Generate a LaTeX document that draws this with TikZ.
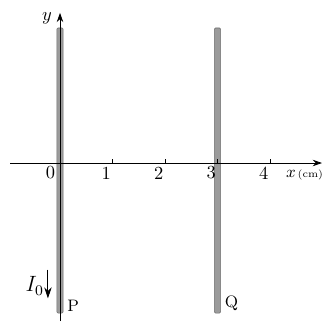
\documentclass[tikz,border=0pt]{standalone}
\usepackage{tikz}
\usetikzlibrary{positioning, arrows.meta}
\definecolor{RodGray}{RGB}{155,155,155}
\definecolor{RodEdge}{RGB}{110,110,110}

\begin{document}
\begin{tikzpicture}[
          rod/.style={rectangle, rounded corners=0.6pt, minimum width=0.12cm,
                      minimum height=5.43cm, inner sep=0pt,
                      fill=RodGray, draw=RodEdge, line width=0.3pt},
          axis/.style={-{Stealth[length=5pt, width=3.5pt]}, line width=0.4pt},
          tick/.style={font=\normalsize, inner sep=1pt},
          lbl/.style={font=\small, inner sep=1pt}
        ]
        \useasboundingbox (-1.143, -3.01) rectangle (5.048, 3.105);

        % Rods
        \node[rod] (rodP) at (0, -0.143) {};
        \node[rod] (rodQ) at (3, -0.143) {};

        % Axes
        \coordinate (xs) at (-0.95, 0);
        \coordinate (xe) at (4.99, 0);
        \coordinate (ys) at (0, -3.01);
        \coordinate (ye) at (0, 2.86);
        \draw[axis] (xs) -- (xe);
        \draw[axis] (ys) -- (ye);
        \node[lbl, font=\normalsize] (ylab) at (-0.25, 2.76) {$y$};
        \node[lbl, anchor=base west, inner sep=0pt] (xlab) at (4.30, -0.27)
              {$x$\hspace{1pt}{\fontsize{5.5}{6}\selectfont(cm)}};

        % Ticks and numbers
        \node[tick] (n0) at (-0.18, -0.19) {0};
        \foreach \i in {1,...,4}{
          \draw[line width=0.3pt] (\i, 0) -- (\i, 0.08);
          \node[tick] (n\i) at (\i-0.12, -0.19) {\i};
        }

        % Current in P
        \coordinate (ia) at (-0.23, -2.03);
        \coordinate (ib) at (-0.23, -2.58);
        \draw[-{Stealth[length=6pt, width=4pt]}, line width=0.5pt] (ia) -- (ib);
        \node[lbl, font=\large] (cur) at (-0.48, -2.34) {$I_0$};

        % Rod names
        \node[lbl, font=\small, anchor=south west] (pname)
              at ([xshift=1pt]rodP.south east) {P};
        \node[lbl, font=\small, anchor=south west] (qname)
              at ([xshift=1pt]rodQ.south east) {Q};
      \end{tikzpicture}
\end{document}
